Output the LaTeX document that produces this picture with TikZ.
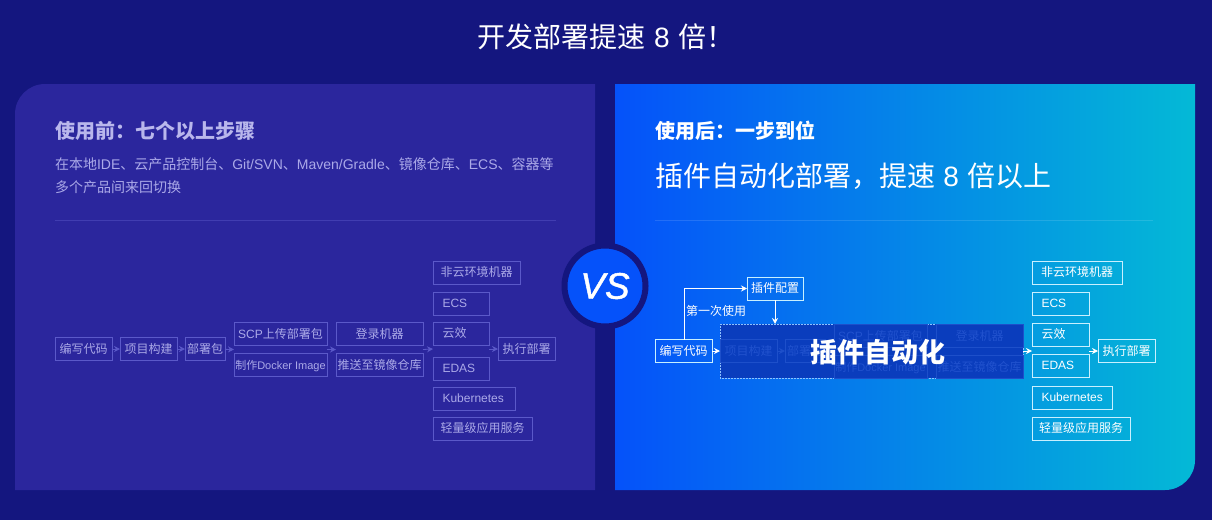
\documentclass[tikz,border=0pt]{standalone}
\usepackage{fontspec}
\setmainfont{Noto Sans CJK SC}
\newfontfamily\latfont{Liberation Sans}
\newfontfamily\vsfont[ItalicFeatures={FakeBold=1.2}]{Liberation Sans}
\newcommand{\lat}[1]{{\latfont #1}}
\newcommand{\eight}{\hspace{0.3em}\lat{8}\hspace{0.3em}}
\usetikzlibrary{positioning,arrows.meta,calc}
\definecolor{pagebg}{HTML}{14167F}
\definecolor{panelbg}{HTML}{2B269D}
\definecolor{bluea}{HTML}{0552FA}
\definecolor{blueb}{HTML}{04B9D6}
\definecolor{dimline}{HTML}{5B59C9}
\definecolor{dimtext}{HTML}{ABA9E8}
\definecolor{headtext}{HTML}{B9B7EC}
\definecolor{liteline}{HTML}{C8F0FF}
\definecolor{ghostbg}{HTML}{0A3DBD}
\definecolor{ghostline}{HTML}{1D4FCA}
\definecolor{ghosttext}{HTML}{2152CE}
\begin{document}
\begin{tikzpicture}[
    x=1pt, y=-1pt,
    box/.style={draw, minimum height=23pt, inner xsep=0pt, inner ysep=0pt,
                outer sep=0pt, anchor=west, line width=0.8pt,
                font=\fontsize{12}{14}\selectfont, text height=10pt, text depth=1.5pt},
    tag/.style={text width=#1, align=left, inner xsep=9.5pt},
    small/.style={font=\fontsize{11}{14}\selectfont},
    dimbox/.style={box, draw=dimline, text=dimtext},
    litebox/.style={box, draw=liteline, text=white, line width=0.9pt},
    ghostbox/.style={box, draw=ghostline, text=ghosttext},
    dimarrow/.style={-{Stealth[length=6pt,width=6pt]}, dimline, line width=0.8pt},
    litearrow/.style={-{Stealth[length=6pt,width=6pt]}, white, line width=1pt},
    ghostarrow/.style={-{Stealth[length=6pt,width=6pt]}, ghostline, line width=0.8pt},
    plain/.style={inner sep=0pt, outer sep=0pt, anchor=west},
    rulerline/.style={line width=0.7pt},
  ]
    \useasboundingbox (0,0) rectangle (1212,520);
    \fill[pagebg] (0,0) rectangle (1212,520);
    \fill[panelbg, rounded corners=30pt] (15,490) -- (15,84) [sharp corners] -- (595,84) -- (595,490) -- cycle;
    \shade[left color=bluea, right color=blueb] (615,84) -- (1195,84) [rounded corners=30pt] -- (1195,490) [sharp corners] -- (615,490) -- cycle;

    \node[plain, anchor=center, text=white, font=\fontsize{28}{32}\selectfont] (title) at (606,37) {开发部署提速\eight 倍！};

    % left panel
    \node[plain, text=headtext, font=\fontsize{20}{24}\selectfont\bfseries] (beforehead) at (55,131) {使用前：七个以上步骤};
    \node[plain, text=dimtext, align=left, font=\fontsize{14}{23}\selectfont] (beforetext) at (55,175.5)
      {在本地\lat{IDE}、云产品控制台、\lat{Git/SVN}、\lat{Maven/Gradle}、镜像仓库、\lat{ECS}、容器等\\多个产品间来回切换};
    \draw[rulerline, color=dimline!45!panelbg] (55,220) -- (556,220);

    \node[dimbox, minimum width=57pt] (code) at (55,349) {编写代码};
    \node[dimbox, minimum width=57pt, right=8pt of code] (build) {项目构建};
    \node[dimbox, minimum width=40pt, right=8pt of build] (pack) {部署包};
    \node[dimbox, minimum width=93pt] (scp) at (234,334) {\lat{SCP}上传部署包};
    \node[dimbox, small, minimum width=93pt] (docker) at (234,365) {制作\lat{Docker Image}};
    \node[dimbox, minimum width=87pt, right=9pt of scp] (login) {登录机器};
    \node[dimbox, minimum width=87pt, right=9pt of docker] (push) {推送至镜像仓库};
    \node[dimbox, minimum width=87pt] (offcloud) at (433,272.5) {非云环境机器};
    \node[dimbox, tag=37pt, below=8pt of offcloud.south west, anchor=north west] (ecs) {\lat{ECS}};
    \node[dimbox, tag=37pt, below=7pt of ecs.south west, anchor=north west] (yunxiao) {云效};
    \node[dimbox, tag=37pt, below=12pt of yunxiao.south west, anchor=north west] (edas) {\lat{EDAS}};
    \node[dimbox, tag=63pt, below=7pt of edas.south west, anchor=north west] (kube) {\lat{Kubernetes}};
    \node[dimbox, minimum width=99pt, below=7pt of kube.south west, anchor=north west] (light) {轻量级应用服务};
    \node[dimbox, minimum width=57pt] (run) at (498,349) {执行部署};

    \coordinate (scpin) at ($(scp.west)!0.5!(docker.west)$);
    \coordinate (scpout) at ($(scp.east)!0.5!(docker.east)$);
    \coordinate (loginin) at ($(login.west)!0.5!(push.west)$);
    \coordinate (loginout) at ($(login.east)!0.5!(push.east)$);
    \coordinate (ecsin) at (433,349);
    \coordinate (ecsout) at (489,349);
    \draw[dimarrow] (code) -- (build);
    \draw[dimarrow] (build) -- (pack);
    \draw[dimarrow] (pack) -- (scpin);
    \draw[dimarrow] (scpout) -- (loginin);
    \draw[dimarrow] (loginout) -- (ecsin);
    \draw[dimarrow] (ecsout) -- (run);

    % right panel
    \node[plain, text=white, font=\fontsize{20}{24}\selectfont\bfseries] (afterhead) at (655,131) {使用后：一步到位};
    \node[plain, text=white, font=\fontsize{28}{32}\selectfont] (aftertext) at (655,176) {插件自动化部署，提速\eight 倍以上};
    \draw[rulerline, color=white, opacity=0.12] (655,220) -- (1153,220);

    \node[draw=liteline!70!bluea, densely dotted, fill=ghostbg, minimum width=303pt, minimum height=54pt,
          inner sep=0pt, outer sep=0pt, line width=0.5pt] (auto) at (871.5,351) {};
    \node[ghostbox, minimum width=57pt] (buildb) at (720,351) {项目构建};
    \node[ghostbox, minimum width=40pt, right=8pt of buildb] (packb) {部署包};
    \node[ghostbox, minimum width=93pt] (scpb) at (834,336) {\lat{SCP}上传部署包};
    \node[ghostbox, small, minimum width=93pt] (dockerb) at (834,367) {制作\lat{Docker Image}};
    \node[ghostbox, minimum width=87pt, right=9pt of scpb] (loginb) {登录机器};
    \node[ghostbox, minimum width=87pt, right=9pt of dockerb] (pushb) {推送至镜像仓库};
    \draw[ghostarrow] (buildb) -- (packb);
    \node[text=white, inner sep=0pt, font=\fontsize{27}{30}\selectfont\bfseries] (autotext) at (877.5,352) {插件自动化};

    \node[litebox, minimum width=57pt] (codeb) at (655,351) {编写代码};
    \node[litebox, minimum width=56pt] (plugin) at (747,288.5) {插件配置};
    \node[litebox, minimum width=90pt] (offcloudb) at (1032,272.5) {非云环境机器};
    \node[litebox, tag=38pt, below=8pt of offcloudb.south west, anchor=north west] (ecsb) {\lat{ECS}};
    \node[litebox, tag=38pt, below=8pt of ecsb.south west, anchor=north west] (yunxiaob) {云效};
    \node[litebox, tag=38pt, below=8pt of yunxiaob.south west, anchor=north west] (edasb) {\lat{EDAS}};
    \node[litebox, tag=61pt, below=9pt of edasb.south west, anchor=north west] (kubeb) {\lat{Kubernetes}};
    \node[litebox, minimum width=98pt, below=8pt of kubeb.south west, anchor=north west] (lightb) {轻量级应用服务};
    \node[litebox, minimum width=57pt] (runb) at (1098,351) {执行部署};
    \node[plain, text=white, font=\fontsize{12}{14}\selectfont] (firstuse) at (686,311) {第一次使用};

    \coordinate (branch) at (684,339.5);
    \coordinate (ecsbin) at (1032,351);
    \coordinate (ecsbout) at (1089,351);
    \draw[litearrow] (codeb) -- (auto.west |- codeb);
    \draw[litearrow] (branch) |- (plugin);
    \draw[litearrow] (plugin) -- (plugin |- auto.north);
    \draw[litearrow] (auto.east |- ecsbin) -- (ecsbin);
    \draw[litearrow] (ecsbout) -- (runb);

    \node[circle, draw=pagebg, line width=6pt, fill=bluea, minimum size=81pt, inner sep=0pt, text=white,
          font=\fontsize{37}{40}\vsfont\itshape] (vs) at (605,286) {VS};
  \end{tikzpicture}
\end{document}
